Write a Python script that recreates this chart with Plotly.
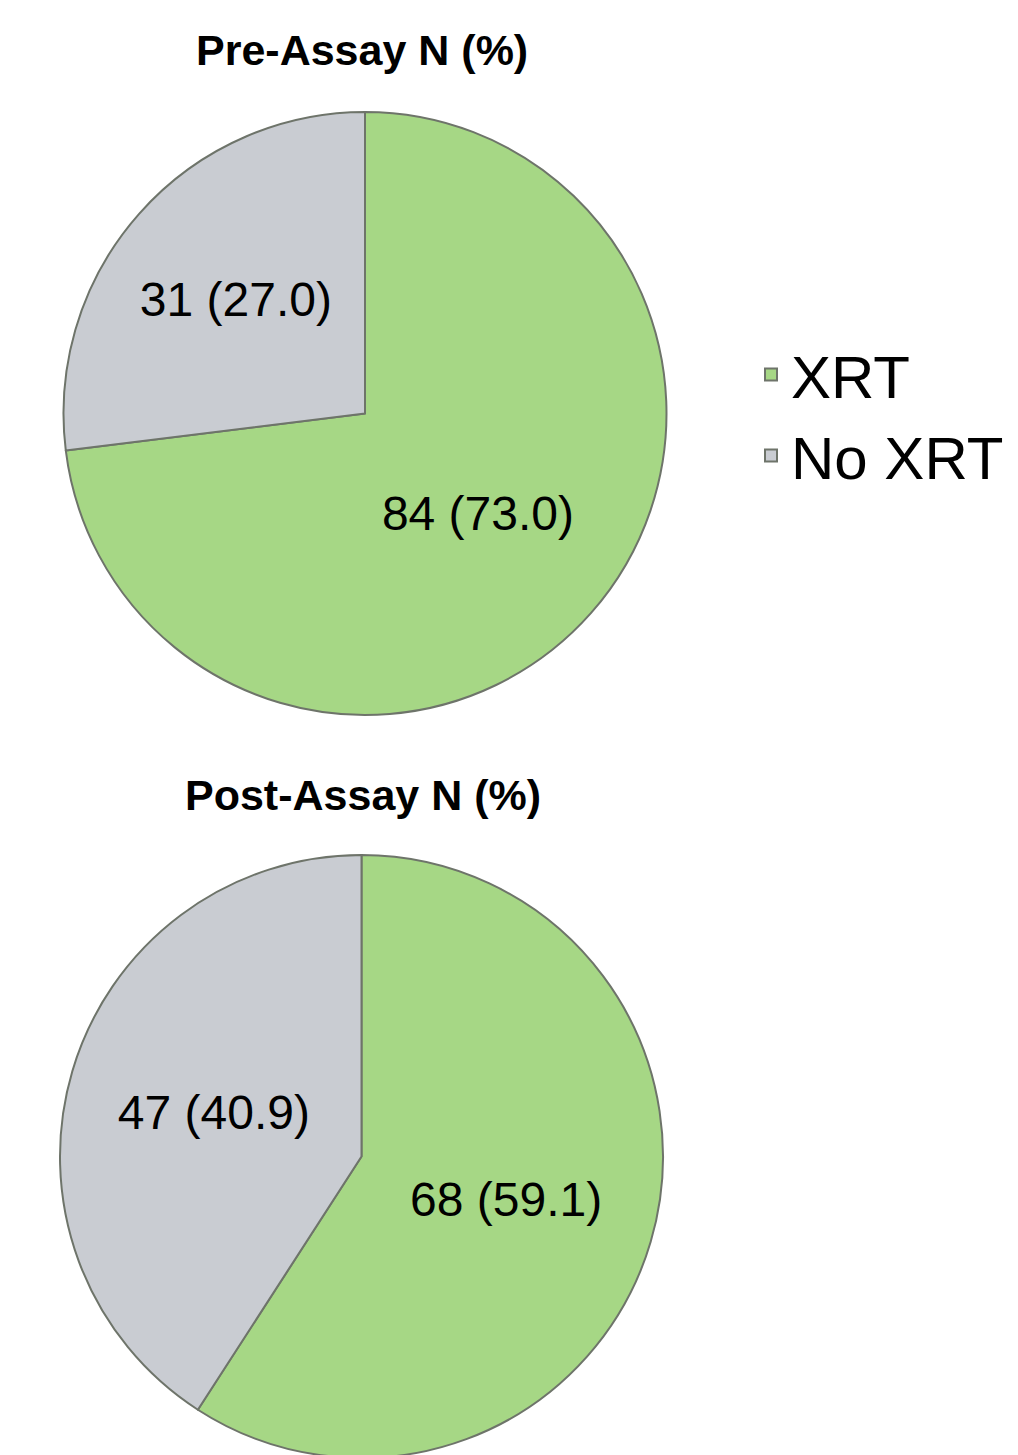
import plotly.graph_objects as go

labels = ["XRT", "No XRT"]
pre_counts = [84, 31]
pre_pct = [73.0, 27.0]
post_counts = [68, 47]
post_pct = [59.1, 40.9]

green = "#a6d785"
grey = "#c9ccd2"
edge = "#6e746a"
font_family = "Liberation Sans, Arial, sans-serif"

W, H = 1018, 1455
OFF = 8  # page body margin


def px_x(x):
    return (x - OFF) / W


def px_y(y):
    return 1 - (y - OFF) / H


def make_pie(counts, pct, domain, show):
    return go.Pie(
        labels=labels,
        values=counts,
        customdata=pct,
        texttemplate="%{value} (%{customdata:.1f})",
        textinfo="text",
        textposition="inside",
        insidetextorientation="horizontal",
        textfont=dict(size=48, color="black", family=font_family),
        sort=False,
        direction="clockwise",
        rotation=0,
        marker=dict(colors=[green, grey], line=dict(color=edge, width=2)),
        domain=domain,
        showlegend=show,
        hoverinfo="label+value",
    )


fig = go.Figure()
fig.add_trace(make_pie(pre_counts, pre_pct,
                       dict(x=[px_x(63), px_x(667)], y=[px_y(715), px_y(112)]), True))
fig.add_trace(make_pie(post_counts, post_pct,
                       dict(x=[px_x(60), px_x(663)], y=[max(px_y(1458), 0), px_y(855)]), False))

fig.update_layout(
    width=W,
    height=H,
    margin=dict(t=0, l=0, r=0, b=0),
    paper_bgcolor="white",
    plot_bgcolor="white",
    font=dict(family=font_family, color="black"),
    legend=dict(
        x=px_x(751),
        y=px_y(329),
        xanchor="left",
        yanchor="top",
        font=dict(size=60, family=font_family),
        bgcolor="rgba(0,0,0,0)",
    ),
    annotations=[
        dict(text="<b>Pre-Assay N (%)</b>", x=px_x(362), y=px_y(50),
             xref="paper", yref="paper", showarrow=False, yanchor="middle",
             font=dict(size=43, family=font_family)),
        dict(text="<b>Post-Assay N (%)</b>", x=px_x(363), y=px_y(795),
             xref="paper", yref="paper", showarrow=False, yanchor="middle",
             font=dict(size=43, family=font_family)),
    ],
)

fig.write_html("out.html")
